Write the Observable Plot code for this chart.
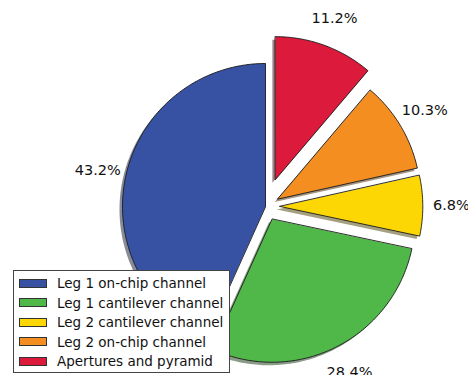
<!DOCTYPE html>
<html>
<head>
<meta charset="utf-8">
<script src="https://cdn.jsdelivr.net/npm/d3@7"></script>
<script src="https://cdn.jsdelivr.net/npm/@observablehq/plot@0.6"></script>
<style>
  html, body { margin: 0; padding: 0; background: #fff; }
  #wrap { position: relative; width: 468px; height: 375px; overflow: hidden; font-family: "DejaVu Sans", sans-serif; }
  #legend { position: absolute; left: 13px; top: 270px; width: 217px; height: 103px; box-sizing: border-box;
            border: 1px solid #444; background: #fff; }
  .sw { position: absolute; left: 5px; width: 28px; height: 9px; box-sizing: border-box; border: 1px solid #333; }
  .lt { position: absolute; left: 43px; font-size: 13.5px; line-height: 16px; color: #111; white-space: nowrap; }
</style>
</head>
<body>
<div id="wrap"></div>
<script>
const categories = ["Leg 1 on-chip channel", "Leg 1 cantilever channel", "Leg 2 cantilever channel", "Leg 2 on-chip channel", "Apertures and pyramid"];
const shares = [43.2, 28.4, 6.8, 10.3, 11.2];
const explode = [0, 0.1, 0.1, 0.1, 0.2];
const colors = ["#3852A3", "#50B848", "#FCD703", "#F58E20", "#DC1B3C"];

const total = d3.sum(shares);
let start = 90;
const slices = shares.map((v, i) => {
  const a0 = start, a1 = start + 360 * v / total;
  start = a1;
  const mid = (a0 + a1) / 2 * Math.PI / 180;
  const c = d3.rgb(colors[i]);
  return {
    label: categories[i], value: v, a0, a1, mid,
    ox: explode[i] * Math.cos(mid), oy: explode[i] * Math.sin(mid),
    fc: colors[i],
    sc: d3.rgb(c.r * 0.3, c.g * 0.3, c.b * 0.3).formatHex()
  };
});

const outline = slices.flatMap(s => {
  const pts = [{label: s.label, fc: s.fc, sc: s.sc, x: s.ox, y: s.oy}];
  const n = Math.max(2, Math.ceil(s.a1 - s.a0));
  for (let k = 0; k <= n; k++) {
    const a = (s.a0 + (s.a1 - s.a0) * k / n) * Math.PI / 180;
    pts.push({label: s.label, fc: s.fc, sc: s.sc, x: s.ox + Math.cos(a), y: s.oy + Math.sin(a)});
  }
  return pts;
});

const pctLabels = slices.map(s => ({
  x: s.ox + 1.2 * Math.cos(s.mid),
  y: s.oy + 1.2 * Math.sin(s.mid),
  text: s.value.toFixed(1) + "%"
}));

const R = 143, CX = 265, CY = 206, W = 468, H = 375;
const chart = Plot.plot({
  width: W, height: H, margin: 0,
  x: {domain: [-CX / R, (W - CX) / R], axis: null},
  y: {domain: [-(H - CY) / R, CY / R], axis: null},
  color: {type: "identity"},
  style: {fontFamily: "DejaVu Sans", background: "white", overflow: "visible"},
  marks: [
    Plot.line(outline, {x: "x", y: "y", z: "label", fill: "sc", fillOpacity: 0.5, stroke: "none", curve: "linear-closed", dx: -3, dy: 3}),
    Plot.line(outline, {x: "x", y: "y", z: "label", fill: "fc", stroke: "#1a1a1a", strokeWidth: 0.9, strokeLinejoin: "round", curve: "linear-closed"}),
    Plot.text(pctLabels, {x: "x", y: "y", text: "text", fontSize: 14.5, fill: "#111"})
  ]
});

const wrap = document.getElementById("wrap");
wrap.appendChild(chart);

const legend = document.createElement("div");
legend.id = "legend";
categories.forEach((c, i) => {
  const cy = 12 + i * 19.6;
  const sw = document.createElement("div");
  sw.className = "sw";
  sw.style.top = (cy - 4.5) + "px";
  sw.style.background = colors[i];
  const t = document.createElement("div");
  t.className = "lt";
  t.style.top = (cy - 8) + "px";
  t.textContent = c;
  legend.appendChild(sw);
  legend.appendChild(t);
});
wrap.appendChild(legend);
</script>
</body>
</html>
